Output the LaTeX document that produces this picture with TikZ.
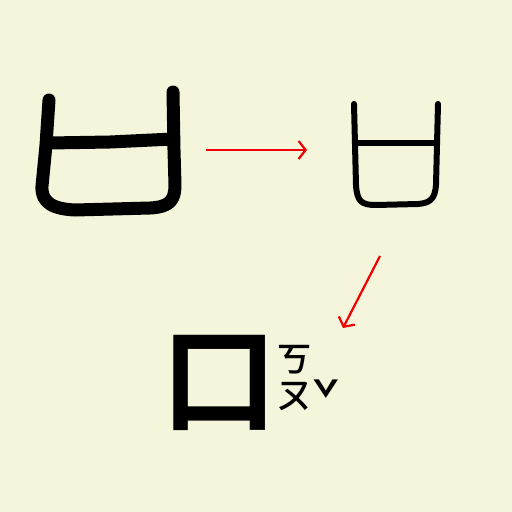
\documentclass[tikz,border=0pt]{standalone}
\usepackage{fontspec}
\newfontfamily\cjk{Noto Sans CJK TC}[BoldFont={Noto Sans CJK TC Bold}]
\newfontfamily\cjkm{Noto Sans CJK TC Medium}
\usetikzlibrary{arrows.meta}
\definecolor{bg}{RGB}{245,245,220}
\definecolor{arrred}{RGB}{240,0,0}
\tikzset{
  thickglyph/.style={line width=13pt, line cap=round, line join=round},
  thinglyph/.style={line width=6pt, line cap=round, line join=round},
  redarrow/.style={draw=arrred, line width=2.2pt, -{Straight Barb[length=7pt,width=18pt,line width=2.2pt]}},
  zhuyin/.style={inner sep=0pt, anchor=base, font=\cjkm\fontsize{36}{36}\selectfont},
}
\begin{document}
\begin{tikzpicture}[x=1pt,y=-1pt]
\fill[bg] (0,0) rectangle (512,512);
\useasboundingbox (0,0) rectangle (512,512);
% left ancient glyph
\draw[thickglyph] (49,100) -- (46,145) -- (42,186) .. controls (41,204) and (55,209) .. (75,210) -- (150,208) .. controls (170,207) and (175,200) .. (175,185) -- (174,150) -- (173,92);
\draw[thickglyph] (49,143) -- (110,142) -- (173,139);
% right glyph
\draw[thinglyph] (354,104) -- (356,185) .. controls (357,202) and (362,205) .. (376,205) -- (418,204) .. controls (431,203) and (435,198) .. (436,185) -- (438,104);
\draw[thinglyph] (355,143) -- (437,143);
% modern character
\node[inner sep=0pt, font=\cjk\bfseries\fontsize{116}{116}\selectfont] (kou) at (219,383) {口};
\node[zhuyin] (k) at (294,372) {ㄎ};
\node[zhuyin] (o) at (294,408) {ㄡ\rlap{\kern0.5pt\raisebox{-9.5pt}{\fontsize{46}{46}\selectfont ˇ}}};
% arrows
\coordinate (a1s) at (206,150);
\coordinate (a1e) at (307,150);
\coordinate (a2s) at (380,256);
\coordinate (a2e) at (343,328);
\draw[redarrow] (a1s) -- (a1e);
\draw[redarrow] (a2s) -- (a2e);
\end{tikzpicture}
\end{document}
